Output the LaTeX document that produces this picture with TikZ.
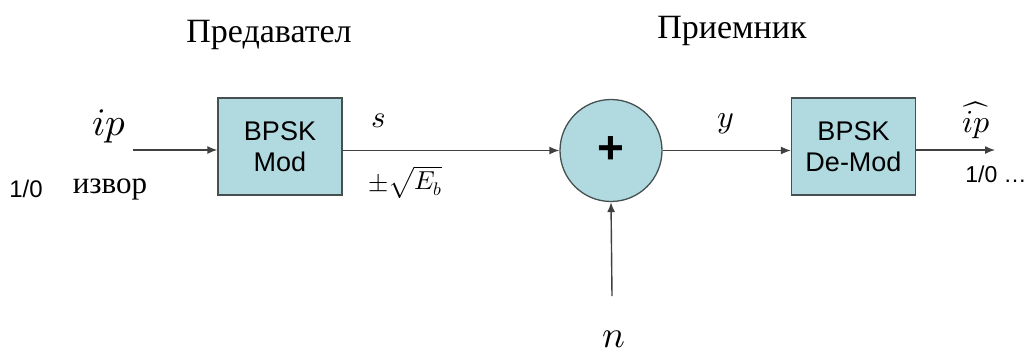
\documentclass[tikz,border=0pt]{standalone}
\usepackage{fontspec}
\setmainfont{Liberation Serif}
\setsansfont{Liberation Sans}
\usepackage{unicode-math}
\setmathfont{Latin Modern Math}
\usetikzlibrary{arrows.meta}
\definecolor{boxfill}{RGB}{176,218,224}
\definecolor{boxline}{RGB}{70,80,80}
\tikzset{
  blk/.style={draw=boxline, line width=1.3pt, fill=boxfill, minimum width=124pt, minimum height=97pt, align=center, font=\fontsize{27}{31}\sffamily, inner sep=0pt},
  sig/.style={draw=black!75, line width=1.4pt, -{Latex[length=10pt,width=8pt]}},
  lbl/.style={inner sep=0pt, anchor=center},
}
\begin{document}
\begin{tikzpicture}[x=1pt,y=-1pt]
\useasboundingbox (0,0) rectangle (1035,360);
\node[blk] (mod) at (280,146.5) {BPSK\\Mod};
\node[blk] (demod) at (853.5,146.5) {BPSK\\De-Mod};
\node[draw=boxline, line width=1.3pt, fill=boxfill, circle, minimum size=102pt, inner sep=0pt, font=\fontsize{46}{46}\sffamily\bfseries] (sum) at (611,150.5) {+};
\coordinate (in) at (133,150);
\coordinate (out) at (995,150);
\coordinate (nin) at (612,296);
\draw[sig] (in) -- (mod.west |- in);
\draw[sig] (mod.east |- sum.west) -- (sum.west);
\draw[sig] (sum.east) -- (demod.west |- sum.east);
\draw[sig] (demod.east |- out) -- (out);
\draw[sig] (nin) -- (sum.south);
\node[lbl, font=\fontsize{34}{34}\selectfont] (tx) at (269,35) {Предавател};
\node[lbl, font=\fontsize{34}{34}\selectfont] (rx) at (732,31) {Приемник};
\node[lbl, font=\fontsize{39}{39}\selectfont] (ip) at (109,126) {$ip$};
\node[lbl, font=\fontsize{24}{24}\sffamily] (one) at (26,189) {1/0};
\node[lbl, font=\fontsize{31}{31}\selectfont] (izv) at (110,189) {извор};
\node[lbl, font=\fontsize{31}{31}\selectfont] (s) at (379,121) {$s$};
\node[lbl, font=\fontsize{26}{26}\selectfont] (pm) at (405,182) {$\pm\sqrt{E_b}$};
\node[lbl, font=\fontsize{32}{32}\selectfont] (y) at (726,124) {$y$};
\node[lbl, font=\fontsize{32}{32}\selectfont] (iph) at (976,120) {$\widehat{ip}$};
\node[lbl, font=\fontsize{23}{23}\sffamily] (out10) at (996,174) {1/0 \ldots};
\node[lbl, font=\fontsize{38}{38}\selectfont] (n) at (614,339) {$n$};
\end{tikzpicture}
\end{document}
